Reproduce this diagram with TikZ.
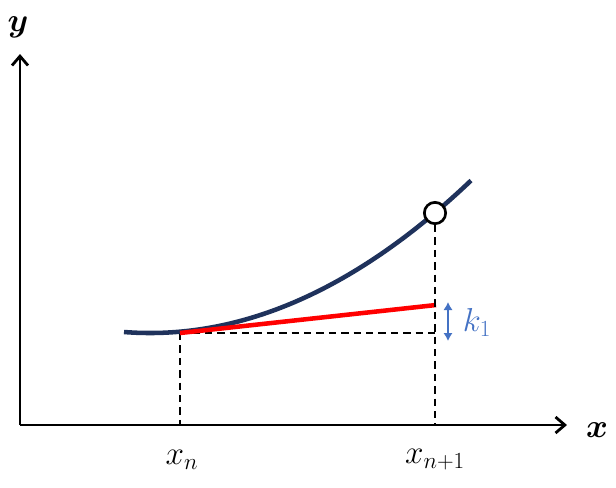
\documentclass[tikz,border=0pt]{standalone}
\usepackage{amsmath,amssymb}
\usepackage{bm}
\usepackage{tikz}
\usetikzlibrary{arrows,arrows.meta}
\definecolor{navy}{RGB}{31,50,92}
\definecolor{kblue}{RGB}{68,114,196}
\newcommand{\lbl}{\fontsize{27}{32}\selectfont}

\begin{document}
\begin{tikzpicture}[x=0.75pt,y=-0.75pt,
    axis/.style={line width=2.1pt,-{Straight Barb[length=7pt,width=12pt]}},
    guide/.style={line width=1.6pt,dash pattern=on 5.5pt off 3.8pt}]
       \useasboundingbox (0,0) rectangle (616,487);
       \coordinate (o) at (20,425);
       \coordinate (ytop) at (20,54);
       \coordinate (xend) at (567,425);
       \coordinate (xn) at (180,333);
       \coordinate (xnb) at (180,425);
       \coordinate (xmb) at (435,425);
       \coordinate (xmk) at (435,333);
       \coordinate (tan) at (436,305);
       \draw[axis] (o) -- (ytop);
       \draw[axis] (o) -- (xend);
       \draw[guide] (xn) -- (xnb);
       \draw[guide] (xn) -- (xmk);
       \draw[line width=3.4pt,navy,domain=124:471,samples=60,smooth]
         plot (\x,{333-(0.03847*(\x-150))^2});
       \draw[line width=3.4pt,red] (xn) -- (tan);
       \node[circle,draw,fill=white,line width=2pt,inner sep=0pt,
         minimum size=16pt] (pt) at (435,213) {};
       \draw[guide] (pt.south) -- (xmb);
       \draw[kblue,line width=1.8pt,{Latex[length=6pt,width=7pt]}-{Latex[length=6pt,width=7pt]}]
         (448,302) -- (448,341);
       \node (ylab) at (18,27) {\lbl$\bm{y}$};
       \node (xlab) at (597,430) {\lbl$\bm{x}$};
       \node (xnlab) at (182,460) {\lbl$x_n$};
       \node (xmlab) at (435,460) {\lbl$x_{n+1}$};
       \node[kblue] (klab) at (477,322) {\lbl$k_1$};
      \end{tikzpicture}
\end{document}
